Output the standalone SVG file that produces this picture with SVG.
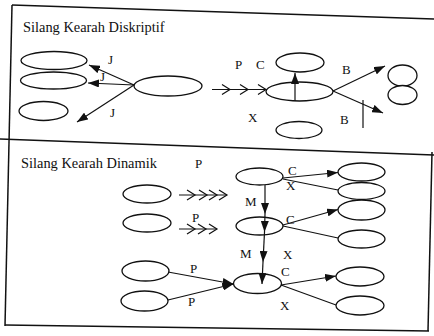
<svg xmlns="http://www.w3.org/2000/svg" width="434" height="336" viewBox="0 0 434 336">
  <style>
    .frame { fill: none; stroke: #111; stroke-width: 1.5; }
    .node { fill: #fff; stroke: #111; stroke-width: 1.3; }
    .edge { fill: none; stroke: #111; stroke-width: 1.2; }
    .arrow { marker-end: url(#head); }
    .chev { fill: none; stroke: #111; stroke-width: 1.2; }
    .title { font-family: "Liberation Serif", "Times New Roman", serif; font-size: 14.4px; fill: #111; }
    .lbl { font-family: "Liberation Serif", "Times New Roman", serif; font-size: 13px; fill: #111; }
  </style>
  <defs>
    <marker id="head" viewBox="0 0 11 8" refX="11" refY="4" markerWidth="11" markerHeight="8" orient="auto" markerUnits="userSpaceOnUse">
      <path d="M0,0 L11,4 L0,8 z" fill="#111"/>
    </marker>
  </defs>
  <rect width="434" height="336" fill="#fff"/>

  <!-- outer frame and panel divider -->
  <g id="frame">
    <path class="frame" d="M12,5 L434,19"/>
    <path class="frame" d="M12,5 L5,326"/>
    <path class="frame" d="M0,139 L434,155"/>
    <path class="frame" d="M432,152 L428,331"/>
    <path class="frame" d="M5,325 L429,331"/>
  </g>

  <text class="title" x="23" y="32">Silang Kearah Diskriptif</text>
  <text class="title" x="21" y="168">Silang Kearah Dinamik</text>

  <!-- descriptive panel nodes -->
  <g id="d1"><ellipse class="node" cx="54" cy="60.5" rx="33" ry="9"/></g>
  <g id="d2"><ellipse class="node" cx="53.5" cy="80.5" rx="33" ry="8.5"/></g>
  <g id="d3"><ellipse class="node" cx="43.5" cy="111" rx="24.5" ry="9.5"/></g>
  <g id="d4"><ellipse class="node" cx="168" cy="86" rx="34" ry="10"/></g>
  <g id="d5"><ellipse class="node" cx="299.5" cy="91.5" rx="33.5" ry="9.5"/></g>
  <g id="d6"><ellipse class="node" cx="300" cy="62.5" rx="24" ry="9.5"/></g>
  <g id="d7"><ellipse class="node" cx="299" cy="130" rx="23" ry="8.5"/></g>
  <g id="d8"><ellipse class="node" cx="402.5" cy="75.5" rx="14.5" ry="10.5"/></g>
  <g id="d9"><ellipse class="node" cx="402.5" cy="95" rx="14.5" ry="9.5"/></g>

  <!-- dynamic panel nodes -->
  <g id="n1"><ellipse class="node" cx="147" cy="194" rx="24" ry="9"/></g>
  <g id="n2"><ellipse class="node" cx="147" cy="223" rx="24" ry="9"/></g>
  <g id="n3"><ellipse class="node" cx="145.5" cy="271" rx="23.5" ry="10"/></g>
  <g id="n4"><ellipse class="node" cx="144.5" cy="301" rx="23.5" ry="10"/></g>
  <g id="na"><ellipse class="node" cx="259.5" cy="176.5" rx="23.5" ry="8.5"/></g>
  <g id="nb"><ellipse class="node" cx="259.5" cy="226" rx="23.5" ry="9"/></g>
  <g id="nc"><ellipse class="node" cx="257.5" cy="283.5" rx="24" ry="10"/></g>
  <g id="r1"><ellipse class="node" cx="361.5" cy="172" rx="23.5" ry="9"/></g>
  <g id="r2"><ellipse class="node" cx="361.5" cy="191" rx="23.5" ry="8.5"/></g>
  <g id="r3"><ellipse class="node" cx="361.5" cy="210" rx="23.5" ry="10"/></g>
  <g id="r4"><ellipse class="node" cx="361.5" cy="239" rx="23.5" ry="9"/></g>
  <g id="r5"><ellipse class="node" cx="360" cy="276.5" rx="24" ry="9.5"/></g>
  <g id="r6"><ellipse class="node" cx="360" cy="305.5" rx="24" ry="9.5"/></g>

  <g id="connectors">
    <!-- descriptive: J arrows -->
    <line class="edge arrow" x1="134" y1="85" x2="89" y2="65"/>
    <line class="edge arrow" x1="134" y1="85" x2="88" y2="83"/>
    <line class="edge arrow" x1="134" y1="85" x2="77" y2="122"/>
    <!-- descriptive: P chevron line -->
    <line class="edge" x1="212" y1="89.5" x2="266" y2="89.5"/>
    <polyline class="chev" points="222,84.5 230,89.5 222,94.5"/>
    <polyline class="chev" points="240,84.5 248,89.5 240,94.5"/>
    <polyline class="chev" points="258,84.5 266,89.5 258,94.5"/>
    <!-- descriptive: C up, B out -->
    <line class="edge arrow" x1="295" y1="101" x2="295" y2="73"/>
    <line class="edge arrow" x1="333" y1="91" x2="385" y2="66"/>
    <line class="edge arrow" x1="333" y1="91" x2="383" y2="113"/>
    <line class="edge" x1="363" y1="100" x2="363" y2="128"/>

    <!-- dynamic: P chevron lines -->
    <line class="edge" x1="179" y1="195" x2="227" y2="195"/>
    <polyline class="chev" points="187,190 195,195 187,200"/>
    <polyline class="chev" points="199,190 207,195 199,200"/>
    <polyline class="chev" points="209,190 217,195 209,200"/>
    <polyline class="chev" points="219,190 227,195 219,200"/>
    <line class="edge" x1="179" y1="229" x2="217" y2="229"/>
    <polyline class="chev" points="187,224 195,229 187,234"/>
    <polyline class="chev" points="198,224 206,229 198,234"/>
    <polyline class="chev" points="209,224 217,229 209,234"/>
    <!-- dynamic: M chain -->
    <line class="edge arrow" x1="265" y1="185" x2="265" y2="214"/>
    <line class="edge arrow" x1="265" y1="214" x2="264.5" y2="232"/>
    <line class="edge arrow" x1="264.5" y1="232" x2="263" y2="262"/>
    <line class="edge arrow" x1="263" y1="262" x2="262" y2="284"/>
    <!-- dynamic: C / X outputs -->
    <line class="edge arrow" x1="283" y1="178" x2="338" y2="172.5"/>
    <line class="edge" x1="283" y1="179" x2="338" y2="190"/>
    <line class="edge arrow" x1="283" y1="225" x2="338" y2="209.5"/>
    <line class="edge" x1="283" y1="226" x2="338" y2="238"/>
    <line class="edge arrow" x1="281" y1="285" x2="336" y2="276"/>
    <line class="edge" x1="281" y1="285" x2="336" y2="305"/>
    <!-- dynamic: P inputs -->
    <line class="edge arrow" x1="168" y1="300" x2="233.5" y2="284"/>
    <line class="edge arrow" x1="168" y1="272" x2="233.5" y2="284"/>
  </g>

  <g id="labels">
    <text class="lbl" x="108" y="64">J</text>
    <text class="lbl" x="100" y="81">J</text>
    <text class="lbl" x="110" y="117">J</text>
    <text class="lbl" x="235" y="69">P</text>
    <text class="lbl" x="256" y="69">C</text>
    <text class="lbl" x="248" y="122">X</text>
    <text class="lbl" x="342" y="74">B</text>
    <text class="lbl" x="340" y="124">B</text>

    <text class="lbl" x="195" y="168">P</text>
    <text class="lbl" x="192" y="222">P</text>
    <text class="lbl" x="245" y="206">M</text>
    <text class="lbl" x="240" y="258">M</text>
    <text class="lbl" x="288" y="175">C</text>
    <text class="lbl" x="286" y="190">X</text>
    <text class="lbl" x="286" y="224">C</text>
    <text class="lbl" x="283" y="259">X</text>
    <text class="lbl" x="281" y="276">C</text>
    <text class="lbl" x="280" y="310">X</text>
    <text class="lbl" x="190" y="273">P</text>
    <text class="lbl" x="188" y="306">P</text>
  </g>
</svg>
